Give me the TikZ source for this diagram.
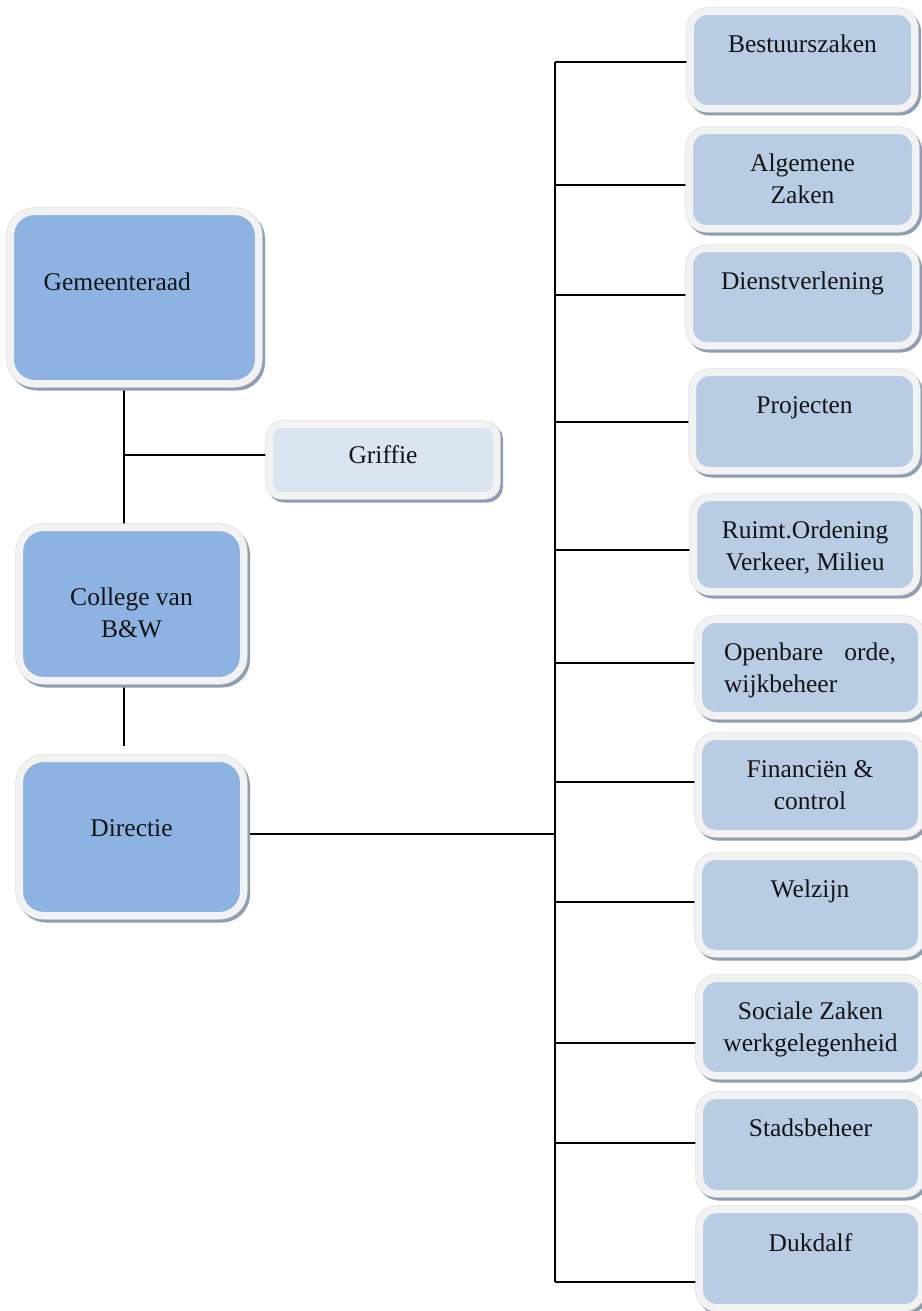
\documentclass[tikz,border=0pt]{standalone}
\usepackage{fontspec}
\setmainfont{Liberation Serif}
\usetikzlibrary{calc,backgrounds}

\definecolor{maincol}{HTML}{8DB3E2}
\definecolor{subcol}{HTML}{B8CCE4}
\definecolor{grifcol}{HTML}{DBE5F1}
\definecolor{framecol}{HTML}{F2F2F2}
\definecolor{edgecol}{HTML}{DADADA}
\definecolor{shadowcol}{HTML}{8E9DB4}
\definecolor{inkcol}{HTML}{141414}

\tikzset{
  frame/.style={draw=framecol, line width=7pt,
    preaction={draw=shadowcol, line width=8pt,
      transform canvas={xshift=2.5pt, yshift=-3pt}},
    preaction={draw=edgecol, line width=8.2pt}},
  mainbox/.style={frame, fill=maincol, rounded corners=24pt},
  subbox/.style={frame, fill=subcol, rounded corners=17pt,
    minimum width=223pt, minimum height=97pt},
  grifbox/.style={frame, fill=grifcol, rounded corners=12pt},
  txt/.style={inner sep=0pt, align=center, text=inkcol,
    font=\fontsize{25.5pt}{32pt}\selectfont},
  toptxt/.style={txt, anchor=north, yshift=-#1},
  toptxt/.default=27pt,
  link/.style={draw=black, line width=1.4pt}
}

\begin{document}
\begin{tikzpicture}[x=1pt, y=-1pt]
  \useasboundingbox (0,0) rectangle (921,1311);

  % governing bodies on the left
  \node[mainbox, minimum width=248pt, minimum height=172pt,
        label={[txt, anchor=north west, xshift=36.5pt, yshift=-64.5pt]north west:Gemeenteraad}]
        (gem) at (134.5,297.5) {};
  \node[grifbox, minimum width=227pt, minimum height=71pt,
        label={[toptxt=24.5pt]north:Griffie}]
        (gri) at (383,460) {};
  \node[mainbox, minimum width=224pt, minimum height=153pt,
        label={[toptxt=64pt]north:{College van\\B\&W}}]
        (col) at (131.5,604) {};
  \node[mainbox, minimum width=224pt, minimum height=157pt,
        label={[toptxt=64pt]north:Directie}]
        (dir) at (131.5,837) {};

  % departments on the right
  \node[subbox, minimum width=224pt, label={[toptxt]north:Bestuurszaken}] (bz) at (802.5,60) {};
  \node[subbox, minimum width=226pt, minimum height=98pt, label={[toptxt]north:{Algemene\\Zaken}}] (az) at (802.5,179.5) {};
  \node[subbox, minimum width=226pt, label={[toptxt]north:Dienstverlening}] (dv) at (802.5,297) {};
  \node[subbox, minimum width=224pt, minimum height=98pt, label={[toptxt]north:Projecten}] (pr) at (804.5,421.5) {};
  \node[subbox, minimum height=94pt, label={[toptxt]north:{Ruimt.Ordening\\Verkeer, Milieu}}] (ro) at (805,544.5) {};
  \node[subbox, minimum height=96pt,
        label={[toptxt, align=left]north:{\parbox{172pt}{Openbare\hfill orde,\\wijkbeheer}}}] (oo) at (810,667.5) {};
  \node[subbox, label={[toptxt]north:{Financiën \&\\control}}] (fc) at (810,785) {};
  \node[subbox, label={[toptxt]north:Welzijn}] (wz) at (810,905) {};
  \node[subbox, minimum width=222pt, label={[toptxt]north:{Sociale Zaken\\werkgelegenheid}}] (sz) at (810.5,1027) {};
  \node[subbox, minimum width=222pt, minimum height=98pt, label={[toptxt]north:Stadsbeheer}] (sb) at (810.5,1144.5) {};
  \node[subbox, minimum width=222pt, minimum height=98pt, label={[toptxt]north:Dukdalf}] (dd) at (810.5,1258.5) {};

  % reference lines for the two vertical spines
  \coordinate (spine) at (124,0);
  \coordinate (trunk) at (555,0);
  \coordinate (grifork) at (124,455);
  \coordinate (hub) at (555,834);

  \begin{scope}[on background layer]
    \draw[link] (gem.south -| spine) -- (col.north -| spine);
    \draw[link] (grifork) -- (grifork -| gri.west);
    \draw[link] (col.south -| spine) -- ++(0,61.5);
    \draw[link] (hub -| dir.east) -- (hub);
    \foreach \n/\d in {bz/2,az/5.5,dv/-2,pr/0.5,ro/5.5,oo/-4.5,fc/-3,wz/-3,sz/16,sb/-1.5,dd/23.5} {
      \path ($(\n.west)+(0,\d)$) coordinate (\n-in);
      \draw[link] (\n-in) -- (\n-in -| trunk);
    }
    \draw[link] (bz-in -| trunk) -- (dd-in -| trunk);
  \end{scope}
\end{tikzpicture}
\end{document}
